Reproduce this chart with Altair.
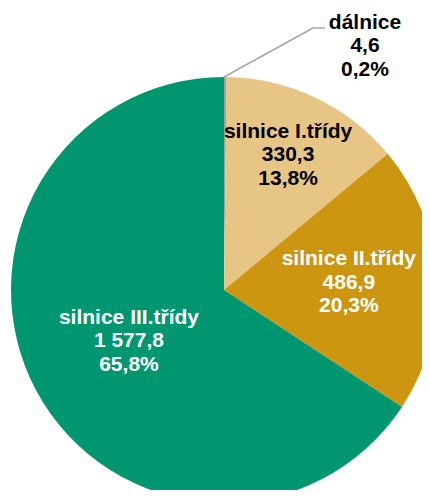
import altair as alt
import pandas as pd

categories = ["dálnice", "silnice I.třídy", "silnice II.třídy", "silnice III.třídy"]
values = [4.6, 330.3, 486.9, 1577.8]
value_labels = ["4,6", "330,3", "486,9", "1 577,8"]
pct_labels = ["0,2%", "13,8%", "20,3%", "65,8%"]
colors = ["#A0A0A0", "#E6C585", "#CC9611", "#009670"]

df = pd.DataFrame({
    "cat": categories,
    "val": values,
    "idx": list(range(len(categories))),
    "label": [f"{c}\n{v}\n{p}" for c, v, p in zip(categories, value_labels, pct_labels)],
})

CX, CY, R = 216, 282, 213
FONT = "Liberation Sans"
LH = 23.5

base = alt.Chart(df).encode(
    theta=alt.Theta("val:Q", stack=True),
    order=alt.Order("idx:Q"),
    x=alt.value(CX),
    y=alt.value(CY),
)

arcs = base.mark_arc(radius=R).encode(
    color=alt.Color("cat:N", scale=alt.Scale(domain=categories, range=colors), legend=None)
)


def label_layer(name, radius, color):
    return base.mark_text(
        radius=radius, font=FONT, fontSize=21, fontWeight="bold", dy=-LH,
        lineBreak="\n", lineHeight=LH, align="center", baseline="middle", color=color,
    ).encode(
        text=alt.condition(alt.datum.cat == name, "label:N", alt.value(""))
    )


lab1 = label_layer("silnice I.třídy", 149, "#000000")
lab2 = label_layer("silnice II.třídy", 125, "#FFFFFF")
lab3 = label_layer("silnice III.třídy", 108, "#FFFFFF")

dal_df = df[df["cat"] == "dálnice"]
lab0 = alt.Chart(dal_df).mark_text(
    font=FONT, fontSize=21, fontWeight="bold", lineBreak="\n", lineHeight=LH,
    align="center", baseline="middle", color="#000000", dy=-LH,
).encode(text="label:N", x=alt.value(357), y=alt.value(38))

lead1 = alt.Chart(dal_df).mark_rule(color="#A6A6A6", strokeWidth=1.5).encode(
    x=alt.value(216), y=alt.value(69), x2=alt.value(305), y2=alt.value(20)
)
lead2 = alt.Chart(dal_df).mark_rule(color="#A6A6A6", strokeWidth=1.5).encode(
    x=alt.value(305), y=alt.value(20), x2=alt.value(317), y2=alt.value(20)
)

chart = alt.layer(arcs, lead1, lead2, lab1, lab2, lab3, lab0).properties(
    width=414, height=482,
    autosize=alt.AutoSizeParams(type="none"),
    padding=0,
).configure_view(stroke=None)

chart.save("out.html", embed_options={"renderer": "svg", "actions": False})
